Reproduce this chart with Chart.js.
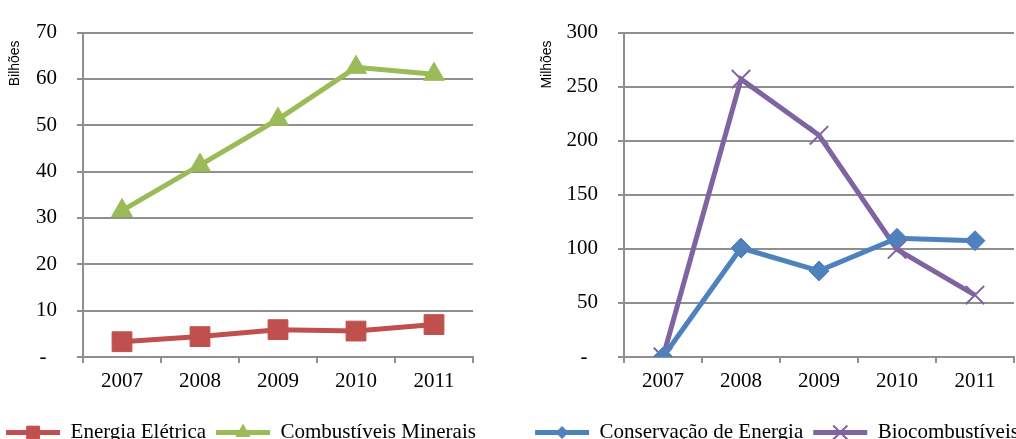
<!DOCTYPE html>
<html lang="pt">
<head>
    <meta charset="UTF-8">
    <style>
        html, body { margin: 0; padding: 0; background: #fff; overflow: hidden; width: 1016px; height: 439px; }
        .box { position: absolute; top: 0; }
    </style>
</head>

<body>
<script src="https://cdn.jsdelivr.net/npm/chart.js@4/dist/chart.umd.min.js"></script>
<div class="box" style="left:-9px"><canvas id="left-chart" width="500" height="453"></canvas></div>
<div class="box" style="left:507px"><canvas id="right-chart" width="540" height="453"></canvas></div>
<script>

    // anos
    var years = ['2007', '2008', '2009', '2010', '2011']

    // grafico da esquerda (bilhões)
    var energiaEletrica = [3.3, 4.4, 5.9, 5.6, 7.0]
    var combustiveisMinerais = [31.6, 41.4, 51.3, 62.5, 61.0]

    // grafico da direita (milhões)
    var conservacaoEnergia = [0, 100.8, 79.6, 109.8, 107.6]
    var biocombustiveis = [0, 256.9, 205, 99.5, 57.3]

    var gridColor = '#8f8f8f'
    var serif = "'Liberation Serif', 'Times New Roman', serif"

    function ds(label, data, color, style, radius, legendRadius, pbw) {
        return {
            label: label,
            data: data,
            borderColor: color,
            backgroundColor: color,
            borderWidth: 5,
            tension: 0,
            pointStyle: style,
            pointRadius: radius,
            pointHoverRadius: radius,
            pointBackgroundColor: color,
            pointBorderColor: color,
            pointBorderWidth: pbw,
            legendRadius: legendRadius
        }
    }

    // desenha o marcador no meio da linha da legenda
    var legendMarkers = {
        id: 'legendMarkers',
        afterDraw: function (chart) {
            var lg = chart.legend
            if (!lg || !lg.legendHitBoxes) return
            var ctx = chart.ctx
            lg.legendHitBoxes.forEach(function (hb, i) {
                var d = chart.data.datasets[i]
                ctx.save()
                ctx.fillStyle = d.pointBackgroundColor
                ctx.strokeStyle = d.pointBorderColor
                ctx.lineWidth = d.pointBorderWidth
                Chart.helpers.drawPoint(ctx, {
                    pointStyle: d.pointStyle, radius: d.legendRadius, rotation: 0, borderWidth: d.pointBorderWidth
                }, hb.left + 27, hb.top + hb.height / 2)
                ctx.restore()
            })
        }
    }

    function makeChart(id, datasets, max, step, title, axisWidth, titlePad, rightGap) {
        return new Chart(document.getElementById(id), {
            type: 'line',
            data: { labels: years, datasets: datasets },
            plugins: [legendMarkers],
            options: {
                responsive: false,
                animation: false,
                devicePixelRatio: 1,
                layout: { padding: { top: 24, right: 0, left: 0, bottom: 0 } },
                plugins: {
                    tooltip: { enabled: false },
                    legend: {
                        position: 'bottom',
                        labels: {
                            color: '#000',
                            font: { family: serif, size: 21 },
                            boxWidth: 54,
                            boxHeight: 5,
                            padding: 10,
                            generateLabels: function (chart) {
                                return Chart.defaults.plugins.legend.labels.generateLabels(chart).map(function (l) {
                                    l.lineWidth = 0
                                    return l
                                })
                            }
                        }
                    }
                },
                scales: {
                    x: {
                        offset: true,
                        grid: { offset: true, drawOnChartArea: false, color: gridColor, lineWidth: 2, tickLength: 6 },
                        border: { color: gridColor, width: 2 },
                        ticks: { color: '#000', font: { family: serif, size: 21 }, padding: 6, maxRotation: 0 },
                        afterFit: function (scale) { scale.height = 55 }
                    },
                    y: {
                        min: 0,
                        max: max,
                        ticks: {
                            stepSize: step,
                            color: '#000',
                            font: { family: serif, size: 21 },
                            padding: 20,
                            callback: function (v) { return v === 0 ? '-  ' : v }
                        },
                        grid: { color: gridColor, lineWidth: 2, tickLength: 6 },
                        border: { color: gridColor, width: 2 },
                        title: {
                            display: true,
                            text: title + '  ',
                            align: 'end',
                            color: '#000',
                            font: { family: "'Liberation Sans', Arial, sans-serif", size: 14 },
                            padding: { top: titlePad, bottom: 0 }
                        },
                        afterFit: function (scale) { scale.width = axisWidth }
                    },
                    // eixo vazio só para reservar o espaço à direita
                    yGap: {
                        position: 'right',
                        display: true,
                        grid: { display: false },
                        border: { display: false },
                        ticks: { display: false },
                        afterFit: function (scale) { scale.width = rightGap }
                    }
                }
            }
        })
    }

    makeChart('left-chart', [
        ds('Energia Elétrica', energiaEletrica, '#C0504D', 'rect', 14, 9, 1),
        ds('Combustíveis Minerais', combustiveisMinerais, '#9BBB59', 'triangle', 12, 8, 1)
    ], 70, 10, 'Bilhões', 92, 16, 18)

    makeChart('right-chart', [
        ds('Conservação de Energia', conservacaoEnergia, '#4F81BD', 'rectRot', 10, 6, 1),
        ds('Biocombustíveis', biocombustiveis, '#8064A2', 'crossRot', 13, 10, 2)
    ], 300, 50, 'Milhões', 117, 32, 33)
</script>

</body>

</html>
